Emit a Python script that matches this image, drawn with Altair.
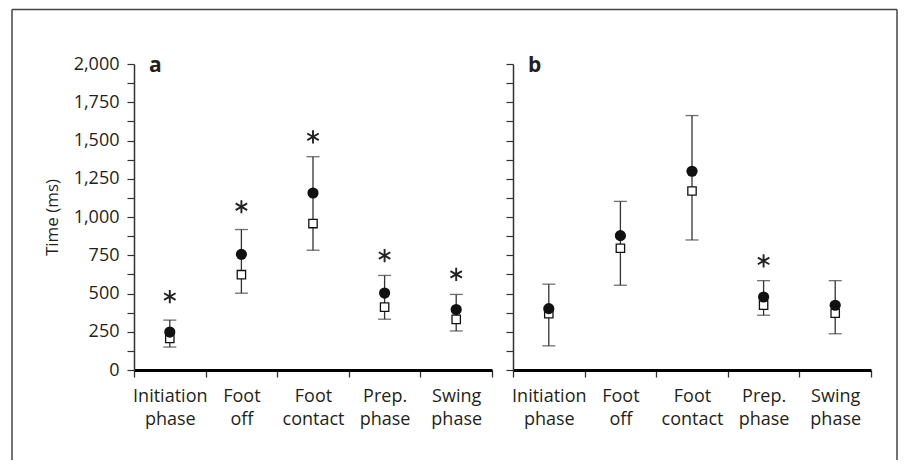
import altair as alt
import pandas as pd

categories = ["Initiation phase", "Foot off", "Foot contact", "Prep. phase", "Swing phase"]

# Panel a
a_filled = [248, 756, 1157, 503, 395]
a_open = [206, 623, 957, 411, 331]
a_upper = [326, 918, 1394, 618, 494]
a_lower = [150, 502, 783, 332, 255]
a_star = [480, 1067, 1524, 748, 625]

# Panel b
b_filled = [401, 878, 1299, 477, 423]
b_open = [368, 796, 1170, 424, 371]
b_upper = [561, 1102, 1663, 584, 584]
b_lower = [158, 554, 850, 358, 237]
b_star = [None, None, None, 713, None]

y_ticks = list(range(0, 2001, 125))

FONT = "Open Sans"
INK = "#231f20"
ASTERISK = "M0,-1L0,1M-0.87,-0.5L0.87,0.5M-0.87,0.5L0.87,-0.5"


def panel(filled, open_, upper, lower, star, letter, show_y_labels, with_frame):
    df = pd.DataFrame({
        "cat": categories, "filled": filled, "open": open_,
        "upper": upper, "lower": lower, "star": star,
    })
    base = alt.Chart(df)
    x = alt.X(
        "cat:N", sort=categories,
        scale=alt.Scale(type="band", domain=categories, paddingInner=0, paddingOuter=0),
        axis=alt.Axis(
            title=None, labelAngle=0, labelExpr="split(datum.label, ' ')",
            labelFontSize=18, labelLineHeight=23, labelPadding=10, labelOverlap=False,
            tickBand="extent", tickSize=7, tickColor="#333", tickWidth=1.3,
            domainColor="#000", domainWidth=3,
        ),
    )
    yscale = alt.Scale(domain=[0, 2000], nice=False, zero=True)
    if show_y_labels:
        yaxis = alt.Axis(
            values=y_ticks,
            labelExpr="datum.value % 250 == 0 ? format(datum.value, ',') : ''",
            tickSize=7, tickColor="#333", tickWidth=1.2,
            domainColor="#333", domainWidth=1.5,
            labelFontSize=18, labelPadding=8, titleFontSize=17, titlePadding=12,
        )
        ytitle = "Time (ms)"
    else:
        yaxis = alt.Axis(
            values=y_ticks, labels=False,
            tickSize=7, tickColor="#333", tickWidth=1.2,
            domainColor="#333", domainWidth=1.5,
        )
        ytitle = None

    def Y(field):
        return alt.Y(field, type="quantitative", scale=yscale, axis=yaxis, title=ytitle)

    layers = []
    if with_frame:
        one = alt.Chart(pd.DataFrame({"f": [0]}))
        fstyle = dict(color="#444", strokeWidth=1.5)
        top = one.mark_rule(**fstyle).encode(
            x=alt.value(-122), x2=alt.value(763), y=alt.value(-54.5), y2=alt.value(-54.5))
        left = one.mark_rule(**fstyle).encode(
            x=alt.value(-122), x2=alt.value(-122), y=alt.value(-54.5), y2=alt.value(396))
        right = one.mark_rule(**fstyle).encode(
            x=alt.value(763), x2=alt.value(763), y=alt.value(-54.5), y2=alt.value(396))
        layers += [top, left, right]

    rule = base.mark_rule(color="#333", strokeWidth=1.3).encode(x=x, y=Y("lower"), y2="upper")
    cap_hi = base.mark_tick(color="#333", size=13, thickness=1.3).encode(x=x, y=Y("upper"))
    cap_lo = base.mark_tick(color="#333", size=13, thickness=1.3).encode(x=x, y=Y("lower"))
    sq = base.mark_point(shape="square", size=70, filled=True, fill="white",
                         stroke="#111", strokeWidth=1.3, opacity=1).encode(x=x, y=Y("open"))
    circ = base.mark_point(shape="circle", size=125, filled=True, color="#111",
                           opacity=1).encode(x=x, y=Y("filled"))
    star_layer = base.transform_filter("isValid(datum.star)").mark_point(
        shape=ASTERISK, size=175, filled=False, stroke="#222", strokeWidth=1.9, opacity=1
    ).encode(x=x, y=Y("star"))
    lab = alt.Chart(pd.DataFrame({"t": [letter]})).mark_text(
        align="left", baseline="alphabetic", fontSize=21, fontWeight="bold",
        font=FONT, color=INK
    ).encode(text="t:N", x=alt.value(15), y=alt.value(8))

    layers += [rule, cap_hi, cap_lo, sq, circ, star_layer, lab]
    return alt.layer(*layers).properties(width=358, height=306)


pa = panel(a_filled, a_open, a_upper, a_lower, a_star, "a", True, True)
pb = panel(b_filled, b_open, b_upper, b_lower, b_star, "b", False, False)

chart = alt.hconcat(pa, pb, spacing=21, bounds="flush").properties(
    padding={"left": 3, "top": 0, "right": 0, "bottom": 0}
).configure_view(strokeWidth=0).configure_axis(
    grid=False, labelFont=FONT, titleFont=FONT, labelColor=INK, titleColor=INK,
    titleFontWeight="normal",
)

chart.save("out.html", embed_options={"renderer": "svg", "actions": False})
